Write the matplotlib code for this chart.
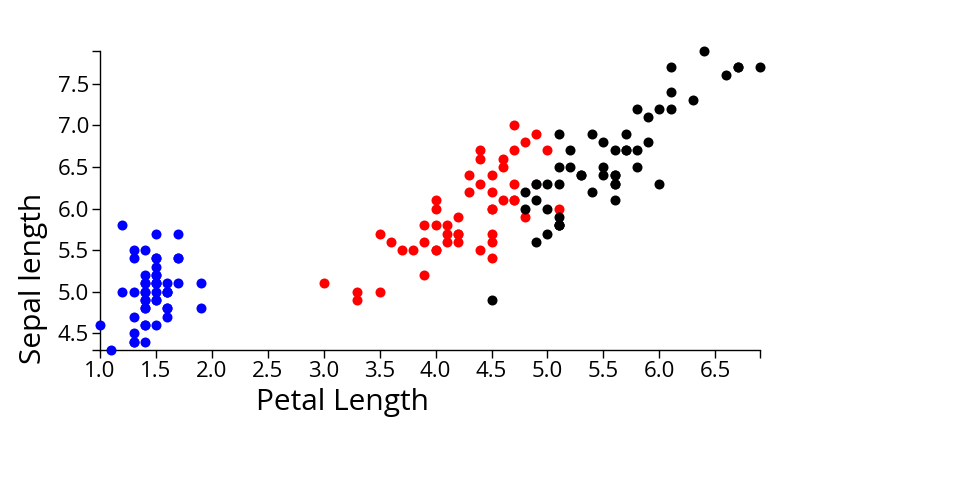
import matplotlib
matplotlib.use('Agg')
import matplotlib.pyplot as plt

plt.rcParams['font.family'] = ['Open Sans', 'DejaVu Sans']

# iris: petal length / sepal length per species
setosa_petal = [1.4, 1.4, 1.3, 1.5, 1.4, 1.7, 1.4, 1.5, 1.4, 1.5, 1.5, 1.6, 1.4, 1.1, 1.2, 1.5, 1.3, 1.4, 1.7, 1.5,
                1.7, 1.5, 1.0, 1.7, 1.9, 1.6, 1.6, 1.5, 1.4, 1.6, 1.6, 1.5, 1.5, 1.4, 1.5, 1.2, 1.3, 1.4, 1.3, 1.5,
                1.3, 1.3, 1.3, 1.6, 1.9, 1.4, 1.6, 1.4, 1.5, 1.4]
setosa_sepal = [5.1, 4.9, 4.7, 4.6, 5.0, 5.4, 4.6, 5.0, 4.4, 4.9, 5.4, 4.8, 4.8, 4.3, 5.8, 5.7, 5.4, 5.1, 5.7, 5.1,
                5.4, 5.1, 4.6, 5.1, 4.8, 5.0, 5.0, 5.2, 5.2, 4.7, 4.8, 5.4, 5.2, 5.5, 4.9, 5.0, 5.5, 4.9, 4.4, 5.1,
                5.0, 4.5, 4.4, 5.0, 5.1, 4.8, 5.1, 4.6, 5.3, 5.0]
versicolor_petal = [4.7, 4.5, 4.9, 4.0, 4.6, 4.5, 4.7, 3.3, 4.6, 3.9, 3.5, 4.2, 4.0, 4.7, 3.6, 4.4, 4.5, 4.1, 4.5, 3.9,
                    4.8, 4.0, 4.9, 4.7, 4.3, 4.4, 4.8, 5.0, 4.5, 3.5, 3.8, 3.7, 3.9, 5.1, 4.5, 4.5, 4.7, 4.4, 4.1, 4.0,
                    4.4, 4.6, 4.0, 3.3, 4.2, 4.2, 4.2, 4.3, 3.0, 4.1]
versicolor_sepal = [7.0, 6.4, 6.9, 5.5, 6.5, 5.7, 6.3, 4.9, 6.6, 5.2, 5.0, 5.9, 6.0, 6.1, 5.6, 6.7, 5.6, 5.8, 6.2, 5.6,
                    5.9, 6.1, 6.3, 6.1, 6.4, 6.6, 6.8, 6.7, 6.0, 5.7, 5.5, 5.5, 5.8, 6.0, 5.4, 6.0, 6.7, 6.3, 5.6, 5.5,
                    5.5, 6.1, 5.8, 5.0, 5.6, 5.7, 5.7, 6.2, 5.1, 5.7]
virginica_petal = [6.0, 5.1, 5.9, 5.6, 5.8, 6.6, 4.5, 6.3, 5.8, 6.1, 5.1, 5.3, 5.5, 5.0, 5.1, 5.3, 5.5, 6.7, 6.9, 5.0,
                   5.7, 4.9, 6.7, 4.9, 5.7, 6.0, 4.8, 4.9, 5.6, 5.8, 6.1, 6.4, 5.6, 5.1, 5.6, 6.1, 5.6, 5.5, 4.8, 5.4,
                   5.6, 5.1, 5.1, 5.9, 5.7, 5.2, 5.0, 5.2, 5.4, 5.1]
virginica_sepal = [6.3, 5.8, 7.1, 6.3, 6.5, 7.6, 4.9, 7.3, 6.7, 7.2, 6.5, 6.4, 6.8, 5.7, 5.8, 6.4, 6.5, 7.7, 7.7, 6.0,
                   6.9, 5.6, 7.7, 6.3, 6.7, 7.2, 6.2, 6.1, 6.4, 7.2, 7.4, 7.9, 6.4, 6.3, 6.1, 7.7, 6.3, 6.4, 6.0, 6.9,
                   6.7, 6.9, 5.8, 6.8, 6.7, 6.7, 6.3, 6.5, 6.2, 5.9]

x_ticks = [1.0, 1.5, 2.0, 2.5, 3.0, 3.5, 4.0, 4.5, 5.0, 5.5, 6.0, 6.5]
y_ticks = [4.5, 5.0, 5.5, 6.0, 6.5, 7.0, 7.5]

fig = plt.figure(figsize=(9.6, 5), dpi=100)
ax = fig.add_axes([100 / 960, 0.3, 660 / 960, 0.599])

ax.scatter(setosa_petal, setosa_sepal, s=52, color='#0000ff', linewidths=0, zorder=3)
ax.scatter(versicolor_petal, versicolor_sepal, s=52, color='#ff0000', linewidths=0, zorder=3)
ax.scatter(virginica_petal, virginica_sepal, s=52, color='black', linewidths=0, zorder=3)

all_petal = setosa_petal + versicolor_petal + virginica_petal
all_sepal = setosa_sepal + versicolor_sepal + virginica_sepal
ax.set_xlim(min(all_petal), max(all_petal))
ax.set_ylim(min(all_sepal), max(all_sepal))

ax.set_xticks(x_ticks)
ax.set_yticks(y_ticks)
ax.set_xticklabels(['%.1f' % t for t in x_ticks])
ax.set_yticklabels(['%.1f' % t for t in y_ticks])
# end caps of the axis lines
ax.set_xticks([max(all_petal)], minor=True)
ax.set_yticks([min(all_sepal), max(all_sepal)], minor=True)
ax.tick_params(which='both', direction='out', length=6, width=1, color='black', labelsize=16, pad=2)

for side in ['top', 'right']:
    ax.spines[side].set_visible(False)
for side in ['left', 'bottom']:
    ax.spines[side].set_linewidth(1)
    ax.spines[side].set_color('black')

for c in ax.collections:
    c.set_clip_on(False)

fig.text(342 / 960, 1 - 410 / 500, 'Petal Length', ha='center', va='baseline', fontsize=21.5)
fig.text(34 / 960, 1 - 278 / 500, 'Sepal length', ha='center', va='center', rotation=90, fontsize=21.5)

fig.savefig('out.png', dpi=100)
